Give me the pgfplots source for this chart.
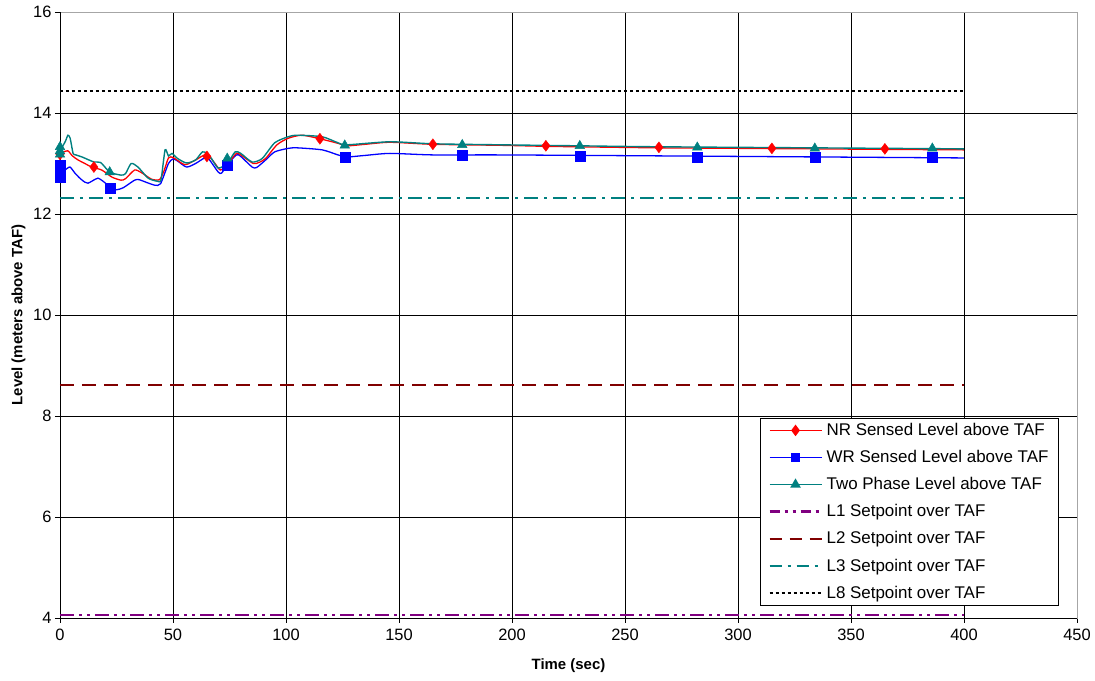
\documentclass[border=0pt]{standalone}
\usepackage{pgfplots}
\pgfplotsset{compat=1.18}
\usepackage{fontspec}
\setmainfont{Liberation Sans}
\definecolor{nrred}{RGB}{255,0,0}
\definecolor{wrblue}{RGB}{0,0,255}
\definecolor{tpteal}{RGB}{0,128,128}
\definecolor{lpurple}{RGB}{128,0,128}
\definecolor{ldred}{RGB}{128,0,0}
\begin{document}
\begin{tikzpicture}
\useasboundingbox (-60bp,-63bp) rectangle (1035bp,618bp);
\begin{axis}[
  scale only axis,
  width=1017bp, height=606bp,
  xmin=0, xmax=450, ymin=4, ymax=16,
  xtick={0,50,...,450}, ytick={4,6,...,16},
  grid=major,
  major grid style={black, line width=0.6pt},
  axis line style={gray!70, line width=0.8pt},
  tick align=outside,
  xtick pos=left, ytick pos=left,
  major tick length=5bp,
  tick style={black, line width=0.6pt},
  tick label style={font=\fontsize{16.5}{19}\selectfont},
  /pgf/number format/assume math mode=true,
  xticklabel style={yshift=-3bp},
  xlabel={\bfseries Time (sec)},
  ylabel={\bfseries Level (meters above TAF)},
  label style={font=\fontsize{15}{17}\selectfont},
  xlabel style={at={(axis description cs:0.5,0)}, anchor=north, yshift=-37bp},
  ylabel style={at={(axis description cs:0,0.5)}, anchor=south, yshift=31bp},
  legend style={at={(0.982,0.021)}, anchor=south east, draw=black,
    font=\fontsize{17}{20}\selectfont, row sep=9.3bp, inner xsep=8bp, inner ysep=3.5bp, cells={anchor=west}},
  legend cell align=left,
  legend image code/.code={\draw[mark repeat=2, mark phase=2, #1] plot coordinates {(0bp,0bp)(26bp,0bp)(52bp,0bp)} node[right, inner sep=0pt, minimum width=2bp] {};},
]
\draw[black, line width=0.8pt] (rel axis cs:0,0) -- (rel axis cs:0,1);
\draw[black, line width=0.8pt] (rel axis cs:0,0) -- (rel axis cs:1,0);

% setpoints
\addplot[lpurple, line width=1.8pt, dash pattern=on 14bp off 5bp on 3bp off 5bp on 3bp off 5bp, forget plot] coordinates {(0,4.06)(400,4.06)};
\addplot[ldred, line width=1.5pt, dash pattern=on 14bp off 8bp, forget plot] coordinates {(0,8.61)(400,8.61)};
\addplot[tpteal, line width=1.8pt, dash pattern=on 14bp off 6bp on 3bp off 6bp, forget plot] coordinates {(0,12.32)(400,12.32)};
\addplot[black, line width=1.5pt, dash pattern=on 3bp off 3bp, forget plot] coordinates {(0,14.44)(400,14.44)};

% WR (blue)
\addplot[wrblue, line width=1.3pt, smooth, tension=0.4, forget plot] coordinates {
(0,12.95)(1,12.85)(2.2,12.87)(4.4,12.93)(6.6,12.81)(9,12.7)(11,12.63)(12.4,12.61)(14.5,12.66)(16.8,12.71)(19,12.65)(23,12.51)(25,12.48)(28,12.52)(33,12.67)(35,12.68)(38,12.63)(42,12.57)(44.5,12.6)(48,13.0)(50,13.09)(52,13.05)(56,12.93)(60,13.0)(64,13.11)(66,13.08)(70,12.83)(71.5,12.81)(74,12.97)(78,13.17)(80,13.14)(85,12.93)(87,12.92)(91,13.07)(95,13.23)(101,13.3)(105,13.31)(116,13.27)(123,13.17)(127,13.13)(135,13.16)(146,13.2)(165,13.17)(195,13.17)(268,13.15)(400,13.11)};
% NR (red)
\addplot[nrred, line width=1.3pt, smooth, tension=0.4, forget plot] coordinates {
(0,13.2)(1,13.22)(3.5,13.25)(5.5,13.15)(8,13.07)(11,13.0)(14,12.93)(18.5,12.87)(23,12.73)(27,12.67)(29,12.7)(33,12.87)(36,12.82)(40.5,12.69)(44,12.68)(46,12.85)(48,13.11)(50,13.12)(54,13.0)(56,12.98)(60,13.07)(64,13.17)(66,13.14)(68.6,13.0)(71,12.87)(74,12.98)(78,13.2)(80,13.17)(85.5,13.0)(88,13.02)(91,13.1)(96,13.37)(101,13.5)(107,13.56)(115,13.49)(123,13.4)(127,13.35)(135,13.38)(146,13.42)(165,13.38)(195,13.36)(215,13.34)(230,13.33)(265,13.31)(300,13.3)(365,13.28)(400,13.27)};
% Two phase (teal)
\addplot[tpteal, line width=1.4pt, smooth, tension=0.4, forget plot] coordinates {
(0,13.3)(1,13.33)(2.5,13.45)(3.5,13.56)(4.5,13.5)(5.8,13.2)(7,13.17)(9.7,13.13)(15,13.03)(18,13.02)(22,12.83)(27,12.77)(29,12.8)(31.5,13.0)(34.5,12.93)(39,12.71)(43,12.65)(44.7,12.68)(46.5,13.27)(48,13.15)(49.6,13.2)(52,13.1)(56,13.01)(60,13.07)(63,13.23)(65,13.2)(67,13.1)(70,12.91)(74,13.0)(77.5,13.23)(80,13.2)(85,13.03)(89.5,13.1)(95,13.41)(101,13.53)(105,13.56)(116,13.53)(123,13.41)(127,13.37)(146,13.43)(165,13.39)(195,13.37)(230,13.35)(268,13.33)(400,13.29)};

% markers
\addplot[only marks, mark=diamond*, mark size=5.5bp, color=nrred, forget plot] coordinates {
(0,13.18)(15,12.93)(65,13.14)(115,13.49)(165,13.38)(215,13.35)(265,13.32)(315,13.3)(365,13.29)};
\addplot[only marks, mark=square*, mark size=5bp, color=wrblue, forget plot] coordinates {
(0,12.72)(0,12.8)(0,12.9)(0,12.97)(22,12.51)(74,12.97)(126,13.12)(178,13.16)(230,13.15)(282,13.13)(334,13.13)(386,13.12)};
\addplot[only marks, mark=triangle*, mark size=5.5bp, color=tpteal, forget plot] coordinates {
(0,13.33)(0,13.25)(0,13.18)(22,12.83)(74,13.1)(126,13.36)(178,13.37)(230,13.35)(282,13.32)(334,13.3)(386,13.3)};

% legend
\addlegendimage{nrred, line width=1.6pt, mark=diamond*, mark size=4.5bp}
\addlegendentry{NR Sensed Level above TAF}
\addlegendimage{wrblue, line width=1.6pt, mark=square*, mark size=4bp}
\addlegendentry{WR Sensed Level above TAF}
\addlegendimage{tpteal, line width=1.6pt, mark=triangle*, mark size=4.5bp}
\addlegendentry{Two Phase Level above TAF}
\addlegendimage{lpurple, line width=2.2pt, dash pattern=on 10bp off 5bp on 3bp off 5bp on 3bp off 5bp}
\addlegendentry{L1 Setpoint over TAF}
\addlegendimage{ldred, line width=2.2pt, dash pattern=on 12bp off 8bp}
\addlegendentry{L2 Setpoint over TAF}
\addlegendimage{tpteal, line width=2.2pt, dash pattern=on 12bp off 6bp on 3bp off 6bp}
\addlegendentry{L3 Setpoint over TAF}
\addlegendimage{black, line width=2.2pt, dash pattern=on 3bp off 3bp}
\addlegendentry{L8 Setpoint over TAF}
\end{axis}
\end{tikzpicture}
\end{document}
